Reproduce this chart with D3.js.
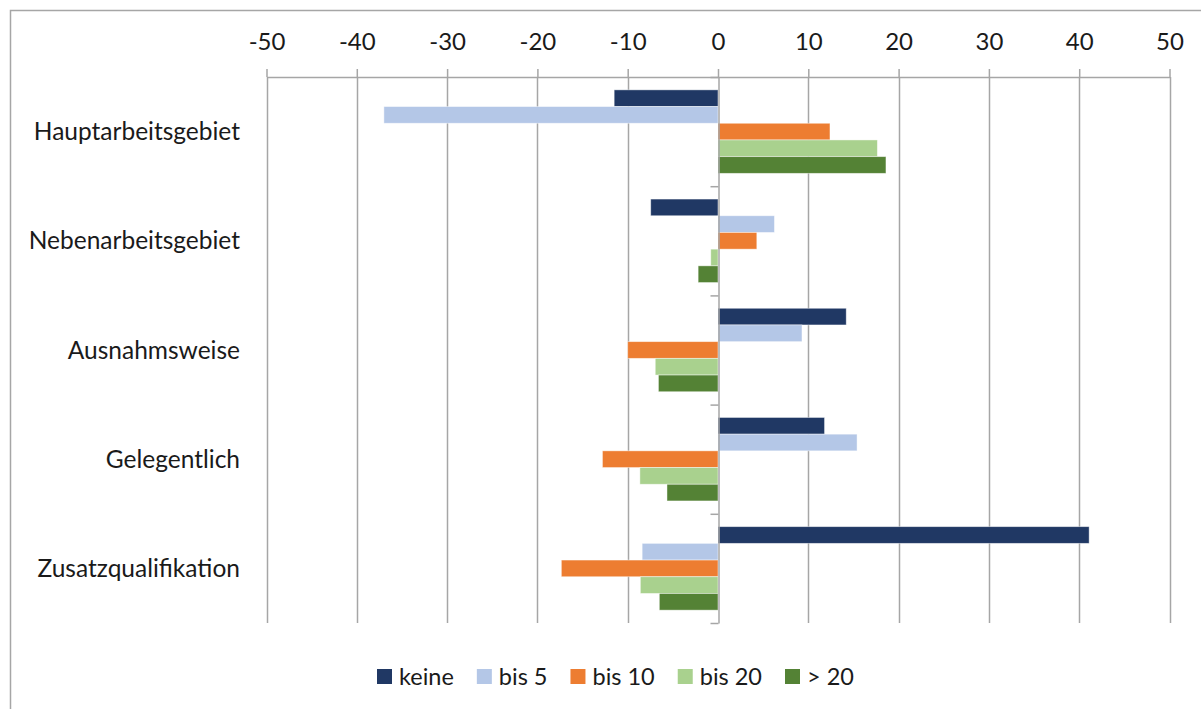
<!DOCTYPE html>
<html>
<head>
<meta charset="utf-8">
<script src="https://cdn.jsdelivr.net/npm/d3@7/dist/d3.min.js"></script>
<style>
  html, body { margin: 0; padding: 0; background: #fff; }
  svg { display: block; }
  text { font-family: Lato, "Open Sans", sans-serif; fill: #1a1a1a; }
</style>
</head>
<body>
<svg id="chart" width="1201" height="709"></svg>
<script>
// Categories (rows) and series (bars within each row)
const categories = ["Hauptarbeitsgebiet", "Nebenarbeitsgebiet", "Ausnahmsweise", "Gelegentlich", "Zusatzqualifikation"];
const seriesNames = ["keine", "bis 5", "bis 10", "bis 20", "> 20"];

// Values per series, in category order
const keine  = [-11.5, -7.45, 14.2, 11.8, 41.1];
const bis5   = [-37.0, 6.25, 9.3, 15.4, -8.4];
const bis10  = [12.4, 4.3, -10.0, -12.8, -17.35];
const bis20  = [17.65, -0.8, -6.95, -8.65, -8.6];
const over20 = [18.6, -2.2, -6.6, -5.65, -6.5];

const xTicks = [-50, -40, -30, -20, -10, 0, 10, 20, 30, 40, 50];
const seriesColors = ["#203864", "#b4c7e7", "#ed7d31", "#a9d18e", "#548235"];

const seriesValues = [keine, bis5, bis10, bis20, over20];
const rows = categories.map((c, i) => ({
  category: c,
  values: seriesNames.map((s, j) => ({ series: s, value: seriesValues[j][i], color: seriesColors[j] }))
}));

const svg = d3.select("#chart");
const gridColor = "#a6a6a6";

// Outer chart frame
svg.append("rect")
  .attr("x", 10.5).attr("y", 10.5)
  .attr("width", 1220).attr("height", 720)
  .attr("fill", "none").attr("stroke", gridColor).attr("stroke-width", 1.5);

const plot = { left: 266.5, right: 1169.5, top: 77, bottom: 623 };

const x = d3.scaleLinear().domain([-50, 50]).range([plot.left, plot.right]);
const y = d3.scaleBand().domain(categories).range([plot.top, plot.bottom]).padding(0);
const ySub = d3.scaleBand().domain(seriesNames).range([0, y.bandwidth()]).paddingInner(0).paddingOuter(0.77);
const yEdges = d3.scaleLinear().domain([0, categories.length]).range([plot.top, plot.bottom]);

// Vertical gridlines
svg.append("g")
  .selectAll("line")
  .data(xTicks.filter(t => t !== 0))
  .join("line")
  .attr("x1", d => Math.round(x(d)) + 0.5).attr("x2", d => Math.round(x(d)) + 0.5)
  .attr("y1", plot.top).attr("y2", plot.bottom)
  .attr("stroke", gridColor).attr("stroke-width", 1.5);

// Bars
const groups = svg.append("g")
  .selectAll("g")
  .data(rows)
  .join("g")
  .attr("transform", d => `translate(0,${y(d.category)})`);

groups.selectAll("rect")
  .data(d => d.values)
  .join("rect")
  .attr("x", d => x(Math.min(0, d.value)))
  .attr("width", d => Math.abs(x(d.value) - x(0)))
  .attr("y", d => ySub(d.series))
  .attr("height", ySub.bandwidth())
  .attr("fill", d => d.color)
  .attr("stroke", "rgba(255,255,255,0.55)")
  .attr("stroke-width", 0.8);

// Top value axis (plain hyphen for negatives)
const xAxis = svg.append("g")
  .attr("transform", `translate(0,${plot.top})`)
  .call(d3.axisTop(x).tickValues(xTicks).tickSize(8).tickSizeOuter(0).tickPadding(19).tickFormat(d => String(d)));
xAxis.select(".domain").attr("stroke", gridColor).attr("stroke-width", 1.5);
xAxis.selectAll(".tick line").attr("stroke", gridColor).attr("stroke-width", 1.5);
xAxis.selectAll(".tick text").style("font-size", "24px").style("font-family", "Lato, 'Open Sans', sans-serif").attr("fill", "#1a1a1a");

// Category axis at zero with boundary ticks
const yAxis = svg.append("g")
  .attr("transform", `translate(${Math.round(x(0)) + 0.5},0)`)
  .call(d3.axisLeft(yEdges).tickValues(d3.range(categories.length + 1)).tickSize(8).tickSizeOuter(0).tickFormat(""));
yAxis.select(".domain").attr("stroke", gridColor).attr("stroke-width", 1.5);
yAxis.selectAll(".tick line").attr("stroke", gridColor).attr("stroke-width", 1.5);

// Category labels
svg.append("g")
  .selectAll("text")
  .data(categories)
  .join("text")
  .attr("x", 240)
  .attr("y", d => y(d) + y.bandwidth() / 2)
  .attr("dy", "0.35em")
  .attr("text-anchor", "end")
  .style("font-size", "24.5px")
  .text(d => d);

// Legend
const legend = svg.append("g").attr("transform", "translate(377,669)");
let lx = 0;
seriesNames.forEach((s, i) => {
  const item = legend.append("g").attr("transform", `translate(${lx},0)`);
  item.append("rect").attr("width", 15).attr("height", 15).attr("fill", seriesColors[i]);
  const t = item.append("text").attr("x", 22).attr("y", 15.5).style("font-size", "23.5px").text(s);
  lx += 22 + t.node().getComputedTextLength() + 23;
});
</script>
</body>
</html>
